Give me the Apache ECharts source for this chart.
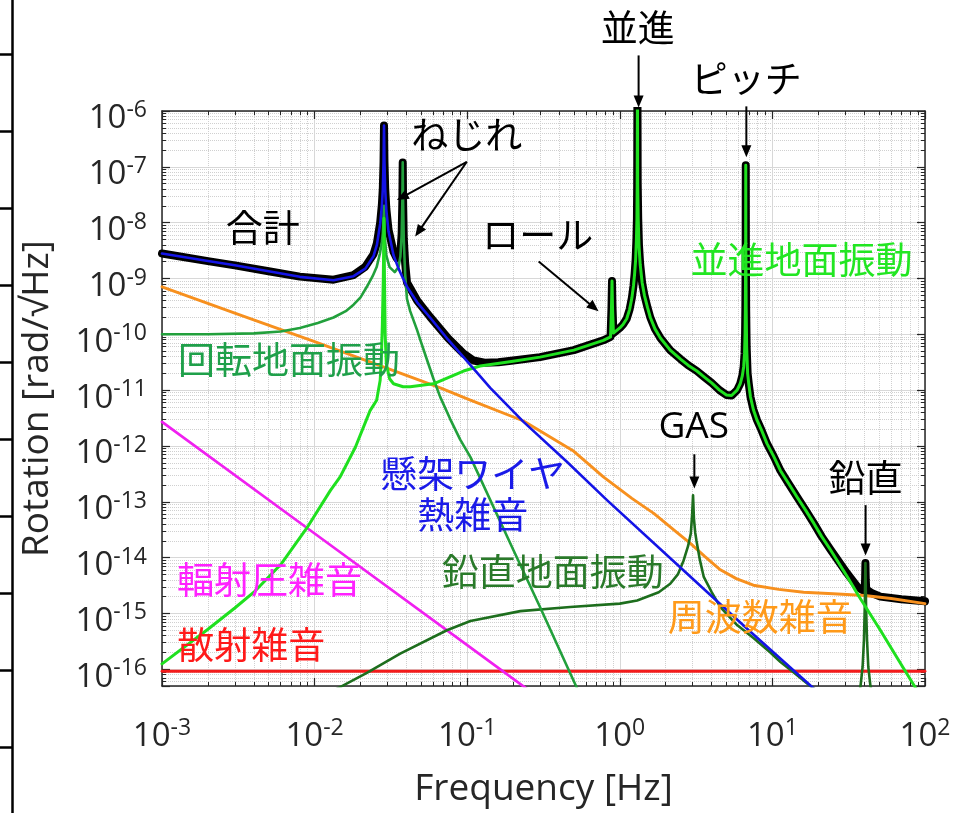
<!DOCTYPE html>
<html><head><meta charset="utf-8">
<script src="https://cdn.jsdelivr.net/npm/echarts@6.0.0/dist/echarts.min.js"></script>
<style>html,body{margin:0;padding:0;background:#fff}#chart{width:954px;height:813px}</style>
</head><body><div id="chart"></div>
<script>
// ---------- axis ticks ----------
const xTickExponents = [-3, -2, -1, 0, 1, 2];
const yTickExponents = [-16, -15, -14, -13, -12, -11, -10, -9, -8, -7, -6];
const minorFactors = [2, 3, 4, 5, 6, 7, 8, 9];
const X_MIN = 1e-3, X_MAX = 1e2;
const Y_MIN_EXP = -16.3, Y_MAX_EXP = -6;

// ---------- data: [frequency Hz, rad/sqrtHz] ----------
const totalNoise = [
  [0.001, 2.8e-9], [0.002, 2.05e-9], [0.003, 1.72e-9], [0.005, 1.35e-9], [0.008, 1.08e-9],
  [0.0133, 9.5e-10], [0.018, 1.15e-9], [0.0215, 1.63e-9], [0.0243, 2.7e-9], [0.0256, 4.3e-9],
  [0.0269, 1.0e-8], [0.0276, 2.1e-8], [0.0280, 4.2e-8], [0.0283, 1.2e-7], [0.0285, 5.5e-7],
  [0.0287, 1.2e-7], [0.0290, 4.2e-8], [0.0295, 1.8e-8], [0.0305, 7.5e-9], [0.0329, 3.0e-9],
  [0.0345, 2.3e-9], [0.0360, 2.5e-9], [0.0365, 2.9e-9], [0.0372, 6.3e-9], [0.0376, 2.5e-8],
  [0.0378, 1.2e-7], [0.0380, 2.5e-8], [0.0384, 5.2e-9], [0.0392, 1.9e-9], [0.0403, 8.5e-10],
  [0.0471, 4.0e-10], [0.0571, 2.05e-10], [0.075, 8.5e-11], [0.0946, 4.5e-11], [0.11, 3.4e-11],
  [0.13, 3.1e-11], [0.16, 3.15e-11], [0.2, 3.4e-11], [0.3, 3.9e-11], [0.5, 5.2e-11],
  [0.78, 7.8e-11], [0.87, 9e-11], [0.882, 3e-10], [0.889, 9e-10], [0.896, 3e-10],
  [0.908, 1.05e-10], [1.0, 1.3e-10], [1.05, 1.5e-10], [1.11, 1.9e-10], [1.16, 2.8e-10],
  [1.2, 4.5e-10], [1.23, 7.5e-10], [1.25, 1.2e-9], [1.27, 2.2e-9], [1.285, 5e-9], [1.295, 1.2e-8],
  [1.30, 5e-8], [1.305, 3e-6], [1.31, 5e-8], [1.32, 1.2e-8], [1.335, 4e-9], [1.36, 1.8e-9],
  [1.40, 8.5e-10], [1.45, 5e-10], [1.52, 3e-10], [1.585, 2e-10], [1.7, 1.25e-10], [1.85, 8.5e-11],
  [2.14, 5.2e-11], [2.5, 3.6e-11], [2.8, 2.8e-11], [3.2, 2.2e-11], [3.55, 1.75e-11], [4.0, 1.35e-11],
  [4.5, 1.0e-11], [5.0, 8.2e-12], [5.4, 8e-12], [5.87, 1e-11], [6.15, 1.3e-11], [6.35, 1.8e-11],
  [6.48, 2.6e-11], [6.57, 4.5e-11], [6.62, 1e-10], [6.65, 3e-10], [6.68, 3e-9], [6.69, 1.07e-7],
  [6.70, 3e-9], [6.73, 3e-10], [6.78, 6e-11], [6.88, 2e-11], [7.0, 1.3e-11], [7.18, 7.6e-12],
  [7.5, 4.5e-12], [7.93, 2.9e-12], [8.5, 1.9e-12], [9.22, 1.1e-12], [10.2, 6.5e-13], [11.3, 3.6e-13],
  [12.8, 2.1e-13], [14.5, 1.22e-13], [16.5, 7.1e-14], [18.7, 4.1e-14], [21, 2.4e-14], [24, 1.4e-14],
  [30.9, 5.2e-15], [36, 3e-15], [39, 2.6e-15], [40.2, 2.8e-15], [40.5, 4e-15], [40.7, 8e-15],
  [40.9, 4e-15], [41.2, 2.7e-15], [45, 2.3e-15], [51, 2.0e-15], [70, 1.8e-15], [100, 1.65e-15]
];
const shotNoise = [[0.001, 9.2e-17], [0.1, 9.2e-17], [100, 9.2e-17]];
const radiationPressureNoise = [[0.001, 2.7e-12], [0.01, 2.7e-14], [0.1, 2.7e-16], [0.3, 3e-17]];
const frequencyNoise = [
  [0.001, 7.1e-10], [0.003, 2.4e-10], [0.01, 7.4e-11], [0.03, 2.45e-11], [0.0666, 1.1e-11],
  [0.105, 6.6e-12], [0.234, 2.8e-12], [0.5, 8e-13], [0.78, 2.8e-13], [1.2, 1.15e-13],
  [1.67, 6.2e-14], [2.3, 3.0e-14], [2.9, 1.8e-14], [3.6, 1.05e-14], [4.5, 6.2e-15],
  [5.8, 4.2e-15], [7.5, 3.2e-15], [11, 2.7e-15], [16, 2.4e-15], [25, 2.25e-15],
  [40, 2.1e-15], [60, 1.85e-15], [100, 1.5e-15]
];
const verticalGround = [
  [0.012, 3.6e-17], [0.0147, 4.8e-17], [0.022, 8.6e-17], [0.0364, 1.9e-16], [0.0736, 5e-16],
  [0.105, 7.3e-16], [0.223, 1.1e-15], [0.473, 1.3e-15], [1.0, 1.5e-15], [1.3, 1.7e-15],
  [1.8, 2.4e-15], [2.14, 3.4e-15], [2.4, 5e-15], [2.62, 8.9e-15], [2.8, 1.6e-14],
  [2.92, 2.7e-14], [2.98, 6e-14], [3.02, 1.3e-13], [3.06, 5e-14], [3.12, 2.8e-14],
  [3.18, 2e-14], [3.35, 9e-15], [3.55, 4.5e-15], [4.0, 2.4e-15], [4.56, 1.3e-15],
  [5.87, 6.2e-16], [7.55, 3.6e-16], [9.7, 2.0e-16], [11.3, 1.35e-16], [14, 8.5e-17],
  [17.7, 5e-17], [25, 2.7e-17], [36, 2.5e-17], [37.8, 5e-17], [39.0, 1.1e-16],
  [39.8, 3.3e-16], [40.3, 1.3e-15], [40.7, 8e-15], [41.1, 1.3e-15], [41.7, 3.3e-16],
  [42.5, 1.1e-16], [43.9, 5e-17], [47, 2.5e-17], [100, 4e-18]
];
const rotationalGround = [
  [0.001, 1.0e-10], [0.002, 1.0e-10], [0.004, 1.04e-10], [0.006, 1.12e-10], [0.008, 1.3e-10],
  [0.0105, 1.6e-10], [0.0133, 2.0e-10], [0.016, 2.6e-10], [0.018, 3.4e-10], [0.020, 4.6e-10],
  [0.022, 7.1e-10], [0.024, 1.1e-9], [0.0255, 1.6e-9], [0.0268, 2.8e-9], [0.0276, 4.5e-9],
  [0.0280, 6.5e-9], [0.0283, 1.2e-8], [0.0285, 2e-8], [0.0288, 6e-9], [0.0295, 2.6e-9],
  [0.031, 1.6e-9], [0.0335, 1.3e-9], [0.0355, 1.6e-9], [0.0365, 2.5e-9], [0.0372, 6e-9],
  [0.0376, 2.5e-8], [0.0378, 1.2e-7], [0.0380, 2.5e-8], [0.0384, 5e-9], [0.0392, 1.2e-9],
  [0.0403, 4.3e-10], [0.0423, 2.6e-10], [0.0469, 1.2e-10], [0.0492, 8e-11], [0.0545, 3.5e-11],
  [0.0601, 1.6e-11], [0.0666, 7.5e-12], [0.0775, 3.0e-12], [0.09, 1.3e-12], [0.105, 6.3e-13],
  [0.2, 1.4e-14], [0.3, 1.3e-15], [0.52, 4.8e-17], [0.6, 2e-17]
];
const translationalGround = [
  [0.001, 1.25e-16], [0.002, 5.2e-16], [0.003, 1.25e-15], [0.004, 2.4e-15], [0.006, 7.5e-15],
  [0.0089, 3.4e-14], [0.0127, 1.6e-13], [0.0147, 2.8e-13], [0.0185, 9.5e-13], [0.0231, 4.3e-12],
  [0.0255, 6.6e-12], [0.0269, 1.5e-11], [0.0274, 4e-11], [0.0278, 1.5e-10], [0.0282, 1e-9],
  [0.0285, 1.2e-8], [0.0287, 1e-9], [0.0290, 1e-10], [0.0295, 3e-11], [0.031, 1.6e-11],
  [0.0329, 1.3e-11], [0.038, 1.15e-11], [0.0423, 1.15e-11], [0.0601, 1.3e-11], [0.0946, 2.2e-11],
  [0.1216, 2.7e-11], [0.2, 3.3e-11], [0.3, 3.9e-11], [0.5, 5.2e-11], [0.78, 7.8e-11],
  [0.87, 9e-11], [0.882, 3e-10], [0.889, 9e-10], [0.896, 3e-10], [0.908, 1.05e-10],
  [1.0, 1.3e-10], [1.05, 1.5e-10], [1.11, 1.9e-10], [1.16, 2.8e-10], [1.2, 4.5e-10],
  [1.23, 7.5e-10], [1.25, 1.2e-9], [1.27, 2.2e-9], [1.285, 5e-9], [1.295, 1.2e-8],
  [1.30, 5e-8], [1.305, 3e-6], [1.31, 5e-8], [1.32, 1.2e-8], [1.335, 4e-9], [1.36, 1.8e-9],
  [1.40, 8.5e-10], [1.45, 5e-10], [1.52, 3e-10], [1.585, 2e-10], [1.7, 1.25e-10], [1.85, 8.5e-11],
  [2.14, 5.2e-11], [2.5, 3.6e-11], [2.8, 2.8e-11], [3.2, 2.2e-11], [3.55, 1.75e-11], [4.0, 1.35e-11],
  [4.5, 1.0e-11], [5.0, 8.2e-12], [5.4, 8e-12], [5.87, 1e-11], [6.15, 1.3e-11], [6.35, 1.8e-11],
  [6.48, 2.6e-11], [6.57, 4.5e-11], [6.62, 1e-10], [6.65, 3e-10], [6.68, 3e-9], [6.69, 1.07e-7],
  [6.70, 3e-9], [6.73, 3e-10], [6.78, 6e-11], [6.88, 2e-11], [7.0, 1.3e-11], [7.18, 7.6e-12],
  [7.5, 4.5e-12], [7.93, 2.9e-12], [8.5, 1.9e-12], [9.22, 1.1e-12], [10.2, 6.5e-13], [11.3, 3.6e-13],
  [12.8, 2.1e-13], [14.5, 1.22e-13], [16.5, 7.1e-14], [18.7, 4.1e-14], [21, 2.4e-14], [24, 1.38e-14],
  [30.9, 4.6e-15], [36.6, 2.1e-15], [51, 5e-16], [70, 1.2e-16], [86, 4.8e-17], [100, 2.6e-17]
];
const suspensionThermal = [
  [0.001, 2.8e-9], [0.002, 2.05e-9], [0.003, 1.72e-9], [0.005, 1.35e-9], [0.008, 1.07e-9],
  [0.0133, 9.3e-10], [0.018, 1.1e-9], [0.0215, 1.5e-9], [0.0243, 2.5e-9], [0.0256, 4e-9],
  [0.0269, 9.5e-9], [0.0276, 2e-8], [0.0280, 4e-8], [0.0283, 1.2e-7], [0.0285, 5.5e-7],
  [0.0287, 1.2e-7], [0.0290, 4e-8], [0.0295, 1.7e-8], [0.0305, 7e-9], [0.0329, 2.6e-9],
  [0.0355, 1.5e-9], [0.038, 1.0e-9], [0.0403, 7.1e-10], [0.0471, 3.7e-10], [0.0571, 2.0e-10],
  [0.075, 8e-11], [0.0946, 3.9e-11], [0.1416, 1.1e-11], [0.234, 2.7e-12], [0.45, 5.2e-13],
  [0.824, 1.07e-13], [2.6, 6e-15], [7, 5e-16], [18.2, 4.8e-17], [25, 2.2e-17]
];

// ---------- annotation anchors (frequency, value) ----------
const labelTexts = ['並進', 'ピッチ', 'ねじれ', '合計', 'ロール', '並進地面振動', '回転地面振動', 'GAS', '鉛直',
  '懸架ワイヤ\n熱雑音', '鉛直地面振動', '輻射圧雑音', '周波数雑音', '散射雑音'];
const labelAnchors = [[1.312, 3.06e-5], [6.73, 3.79e-6], [0.0993, 3.68e-7], [4.57e-3, 8.2e-9], [0.29, 6.03e-9],
  [15.5, 2.16e-9], [6.8e-3, 3.53e-11], [3.05, 2.13e-12], [40.7, 2.65e-13],
  [0.1087, 1.35e-13], [0.364, 5.56e-15], [5.07e-3, 4.0e-15], [8.34, 8.6e-16], [3.84e-3, 2.68e-16]];
const labelColors = ['#000', '#000', '#000', '#000', '#000', '#22e622', '#1fa04a', '#000', '#000',
  '#1a1ae8', '#2a7a2a', '#ff22ff', '#ff9a1a', '#ff1a1a'];
const arrowFrom = [[1.328, 9.9e-6], [6.75, 1.21e-6], [0.0994, 1.23e-7], [0.0994, 1.23e-7], [0.294, 2.01e-9], [3.08, 7.1e-13], [40.8, 8.7e-14]];
const arrowTo = [[1.328, 1.16e-6], [6.75, 1.49e-7], [0.0346, 2.54e-8], [0.0456, 5.62e-9], [0.726, 2.58e-10], [3.08, 1.73e-13], [40.8, 1.09e-14]];

// ---------- styling ----------
const FONT = "'Open Sans', 'Noto Sans CJK JP', sans-serif";
const JP = "'Noto Sans CJK JP', sans-serif";
const AX = '#262626';
const toPlot = arr => arr.map(p => [p[0], Math.log10(p[1])]);

const seriesDefs = [
  { name: '合計', data: totalNoise, color: '#000000', width: 8 },
  { name: '散射雑音', data: shotNoise, color: '#f41b1b', width: 2.8 },
  { name: '輻射圧雑音', data: radiationPressureNoise, color: '#f020f0', width: 2.7 },
  { name: '周波数雑音', data: frequencyNoise, color: '#f7901e', width: 2.9 },
  { name: '鉛直地面振動', data: verticalGround, color: '#1d6e1d', width: 2.6 },
  { name: '回転地面振動', data: rotationalGround, color: '#22a03c', width: 2.6 },
  { name: '並進地面振動', data: translationalGround, color: '#1fe01f', width: 3 },
  { name: '懸架ワイヤ熱雑音', data: suspensionThermal, color: '#1414e6', width: 2.6 }
];

const richLabel = {
  b: { fontSize: 33, lineHeight: 40, fontFamily: FONT, color: AX },
  s: { fontSize: 23, lineHeight: 12, verticalAlign: 'top', fontFamily: FONT, color: AX }
};
const mainLine = { show: true, lineStyle: { color: AX, width: 1.5 } };
const mainTick = { show: true, inside: true, length: 8, lineStyle: { color: AX, width: 1.2 } };
const minorTickStyle = { show: true, inside: true, length: 4, lineStyle: { color: AX, width: 1 } };

const xAxes = [
  {
    type: 'log', logBase: 10, min: X_MIN, max: X_MAX, gridIndex: 0, position: 'bottom',
    axisLine: mainLine, axisTick: mainTick,
    minorTick: Object.assign({ splitNumber: 9 }, minorTickStyle),
    splitLine: { show: true, lineStyle: { color: '#d8d8d8', width: 1 } },
    minorSplitLine: { show: true, lineStyle: { color: '#d0d0d0', width: 1, type: 'dotted' } },
    axisLabel: {
      margin: 31, rich: richLabel,
      formatter: v => {
        const l = Math.log10(v), e = Math.round(l);
        return (Math.abs(l - e) < 1e-6 && xTickExponents.includes(e)) ? '{b|10}{s|' + e + '}' : '';
      }
    },
    name: 'Frequency [Hz]', nameLocation: 'middle', nameGap: 85,
    nameTextStyle: { fontSize: 37, fontFamily: FONT, color: AX }
  },
  {
    type: 'log', logBase: 10, min: X_MIN, max: X_MAX, gridIndex: 0, position: 'top',
    axisLine: mainLine, axisTick: mainTick,
    minorTick: Object.assign({ splitNumber: 9 }, minorTickStyle),
    axisLabel: { show: false }, splitLine: { show: false }
  },
  { type: 'value', gridIndex: 1, show: false, min: 0, max: 1 },
  { type: 'value', gridIndex: 2, show: false, min: 0, max: 1 }
];

const yAxes = [
  {
    type: 'value', gridIndex: 0, position: 'left', min: Y_MIN_EXP, max: Y_MAX_EXP, splitNumber: 10,
    axisLine: mainLine, axisTick: mainTick,
    splitLine: { show: true, lineStyle: { color: '#d8d8d8', width: 1 } },
    axisLabel: {
      margin: 15, rich: richLabel, padding: [16, 0, 0, 0],
      formatter: v => {
        const e = Math.round(v);
        return (Math.abs(v - e) < 1e-6 && yTickExponents.includes(e)) ? '{b|10}{s|' + e + '}' : '';
      }
    },
    name: 'Rotation [rad/√Hz]', nameLocation: 'middle', nameGap: 106, nameRotate: 90,
    nameTextStyle: { fontSize: 37, fontFamily: FONT, color: AX }
  },
  {
    type: 'value', gridIndex: 0, position: 'right', min: Y_MIN_EXP, max: Y_MAX_EXP, splitNumber: 10,
    axisLine: mainLine, axisTick: mainTick, axisLabel: { show: false }, splitLine: { show: false }
  }
];
// minor decade positions (2..9 x 10^n) via offset value axes on the same grid
minorFactors.forEach(k => {
  const c = Math.log10(k) - 1;
  const base = { type: 'value', gridIndex: 0, min: Y_MIN_EXP - c, max: Y_MAX_EXP - c, splitNumber: 10,
    axisLine: { show: false }, axisLabel: { show: false }, axisTick: minorTickStyle };
  yAxes.push(Object.assign({ position: 'left',
    splitLine: { show: true, lineStyle: { color: '#d0d0d0', width: 1, type: 'dotted' } } }, base));
  yAxes.push(Object.assign({ position: 'right', splitLine: { show: false } }, base));
});
// leftover frame (line with ticks) at the far left of the picture
yAxes.push({
  type: 'value', gridIndex: 1, position: 'left', min: 0, max: 9, interval: 1,
  axisLine: { show: false },
  axisTick: { show: true, inside: false, length: 12, lineStyle: { color: '#000', width: 2.5 } },
  axisLabel: { show: false }, splitLine: { show: false }
});
yAxes.push({
  type: 'value', gridIndex: 2, position: 'left', min: 0, max: 1, interval: 1,
  axisLine: { show: true, lineStyle: { color: '#000', width: 2.5 } },
  axisTick: { show: false }, axisLabel: { show: false }, splitLine: { show: false }
});

const chart = echarts.init(document.getElementById('chart'), null, { renderer: 'canvas' });
chart.setOption({
  animation: false,
  backgroundColor: '#ffffff',
  textStyle: { fontFamily: FONT },
  grid: [
    { left: 162, top: 111, width: 763, height: 576, containLabel: false },
    { left: 12, top: 54, width: 10, height: 693, containLabel: false },
    { left: 12, top: 0, width: 10, height: 813, containLabel: false }
  ],
  xAxis: xAxes,
  yAxis: yAxes,
  series: seriesDefs.map((s, i) => ({
    type: 'line', name: s.name, xAxisIndex: 0, yAxisIndex: 0,
    data: toPlot(s.data), showSymbol: false, symbol: 'none', clip: true, silent: true,
    smooth: false, z: 2 + i * 0.01,
    lineStyle: { color: s.color, width: s.width, cap: 'round', join: 'round' }
  }))
});

// annotations placed through the chart's own coordinate conversion
const px = p => chart.convertToPixel({ seriesIndex: 0 }, [p[0], Math.log10(p[1])]);
const elements = [];
labelTexts.forEach((t, i) => {
  const p = px(labelAnchors[i]);
  const isLatin = /^[A-Za-z]+$/.test(t);
  elements.push({
    type: 'text', x: p[0], y: p[1], z: 100, silent: true,
    style: {
      text: t, fill: labelColors[i], font: '37px ' + (isLatin ? FONT : JP),
      align: 'center', verticalAlign: 'middle', textAlign: 'center', textVerticalAlign: 'middle',
      lineHeight: 41
    }
  });
});
arrowFrom.forEach((a, i) => {
  const p1 = px(a), p2 = px(arrowTo[i]);
  const dx = p2[0] - p1[0], dy = p2[1] - p1[1];
  const L = Math.hypot(dx, dy), ux = dx / L, uy = dy / L;
  const hl = 12, hw = 5;
  const bx = p2[0] - ux * hl, by = p2[1] - uy * hl;
  elements.push({ type: 'line', z: 100, silent: true,
    shape: { x1: p1[0], y1: p1[1], x2: bx + ux * 2, y2: by + uy * 2 },
    style: { stroke: '#000', lineWidth: 2 } });
  elements.push({ type: 'polygon', z: 100, silent: true,
    shape: { points: [[p2[0], p2[1]], [bx - uy * hw, by + ux * hw], [bx + uy * hw, by - ux * hw]] },
    style: { fill: '#000' } });
});
chart.setOption({ graphic: { elements: elements } });
</script></body></html>
